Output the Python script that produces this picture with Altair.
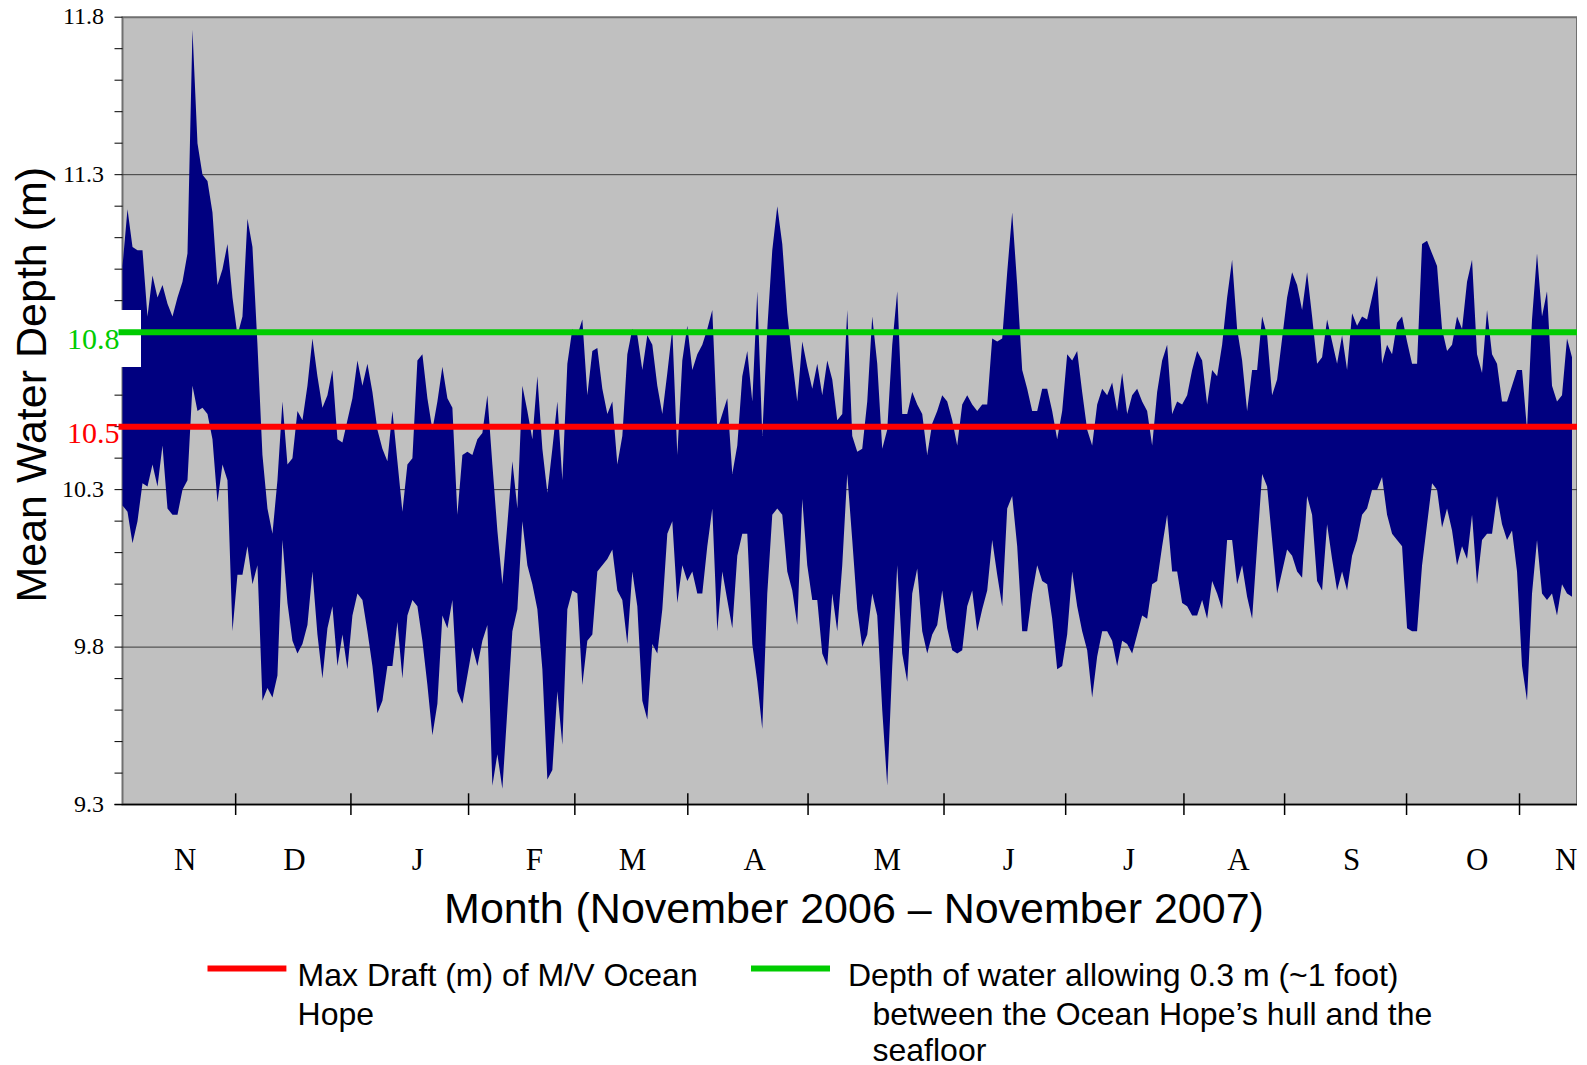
import altair as alt
import pandas as pd

# ---------------- data ----------------
# Envelope of the hourly water-depth trace (m): local high / low per ~1.3-day step
high_nov = [11.01, 11.19, 11.07, 11.06, 11.06, 10.85, 10.98, 10.91, 10.95, 10.89, 10.85, 10.91,
            10.96, 11.05, 11.76, 11.40, 11.30, 11.28, 11.18, 10.95, 11.00, 11.08, 10.91, 10.79,
            10.85, 11.16, 11.07, 10.76, 10.41, 10.24, 10.16, 10.33, 10.58, 10.38, 10.40, 10.55]
low_nov = [10.25, 10.23, 10.13, 10.20, 10.32, 10.31, 10.38, 10.31, 10.44, 10.24, 10.22, 10.22,
           10.30, 10.33, 10.63, 10.55, 10.56, 10.54, 10.46, 10.26, 10.38, 10.33, 9.85, 10.03,
           10.03, 10.12, 10.00, 10.06, 9.63, 9.67, 9.64, 9.71, 10.14, 9.94, 9.82, 9.78]

high_dec = [10.52, 10.63, 10.78, 10.66, 10.56, 10.60, 10.68, 10.46, 10.45, 10.52, 10.59, 10.71,
            10.63, 10.70, 10.61, 10.49, 10.43, 10.39, 10.55, 10.39, 10.23, 10.38, 10.40, 10.71,
            10.73, 10.59, 10.49, 10.58, 10.69, 10.59, 10.56, 10.22, 10.41, 10.42, 10.41, 10.46]
low_dec = [9.81, 9.87, 10.04, 9.84, 9.70, 9.86, 9.93, 9.74, 9.84, 9.73, 9.90, 9.97,
           9.95, 9.85, 9.74, 9.59, 9.63, 9.74, 9.74, 9.88, 9.70, 9.90, 9.95, 9.93,
           9.82, 9.68, 9.52, 9.62, 9.90, 9.86, 9.95, 9.66, 9.62, 9.71, 9.80, 9.74]

high_feb = [10.48, 10.60, 10.38, 10.17, 10.00, 10.19, 10.39, 10.24, 10.63, 10.55, 10.46, 10.66,
            10.43, 10.29, 10.43, 10.58, 10.33, 10.70, 10.81, 10.79, 10.84, 10.60, 10.74, 10.75,
            10.62, 10.54, 10.58, 10.38, 10.47, 10.73, 10.81, 10.79, 10.68, 10.79, 10.76, 10.63]
low_feb = [9.82, 9.87, 9.36, 9.46, 9.35, 9.60, 9.85, 9.92, 10.20, 10.06, 10.00, 9.92,
           9.73, 9.38, 9.41, 9.66, 9.49, 9.92, 9.98, 9.97, 9.68, 9.82, 9.84, 10.04,
           10.06, 10.08, 10.11, 9.98, 9.95, 9.81, 10.04, 9.93, 9.63, 9.57, 9.81, 9.78]

high_apr = [10.54, 10.67, 10.81, 10.41, 10.71, 10.82, 10.68, 10.73, 10.76, 10.81, 10.87, 10.49,
            10.54, 10.59, 10.35, 10.44, 10.66, 10.74, 10.58, 10.93, 10.47, 10.81, 11.06, 11.20,
            11.08, 10.86, 10.71, 10.58, 10.77, 10.69, 10.62, 10.70, 10.60, 10.71, 10.65, 10.52]
low_apr = [9.92, 10.16, 10.20, 9.94, 10.06, 10.01, 10.04, 9.97, 9.97, 10.12, 10.24, 9.85,
           10.04, 9.95, 9.86, 10.09, 10.16, 10.16, 9.81, 9.69, 9.54, 9.97, 10.22, 10.24,
           10.22, 10.04, 9.98, 9.87, 10.27, 10.06, 9.95, 9.95, 9.78, 9.74, 9.97, 9.85]

high_may = [10.54, 10.87, 10.47, 10.42, 10.43, 10.58, 10.85, 10.70, 10.43, 10.49, 10.76, 10.93,
            10.54, 10.54, 10.61, 10.57, 10.54, 10.41, 10.51, 10.55, 10.60, 10.58, 10.52, 10.44,
            10.57, 10.60, 10.57, 10.55, 10.57, 10.57, 10.78, 10.77, 10.78, 10.99, 11.18, 10.95]
low_may = [10.06, 10.35, 10.14, 9.92, 9.80, 9.84, 9.97, 9.90, 9.60, 9.36, 9.74, 10.06,
           9.78, 9.69, 9.97, 10.05, 9.85, 9.78, 9.84, 9.87, 9.98, 9.86, 9.79, 9.78,
           9.79, 9.93, 9.98, 9.85, 9.92, 9.98, 10.14, 10.03, 9.93, 10.24, 10.28, 10.12]

high_jul = [10.68, 10.62, 10.55, 10.55, 10.62, 10.62, 10.55, 10.46, 10.55, 10.73, 10.71, 10.74,
            10.61, 10.49, 10.44, 10.57, 10.62, 10.60, 10.64, 10.55, 10.67, 10.54, 10.60, 10.62,
            10.58, 10.55, 10.44, 10.61, 10.71, 10.76, 10.54, 10.58, 10.57, 10.60, 10.68, 10.74]
low_jul = [9.85, 9.85, 9.97, 10.06, 10.01, 10.00, 9.89, 9.73, 9.74, 9.84, 10.04, 9.93,
           9.85, 9.79, 9.64, 9.77, 9.85, 9.85, 9.82, 9.74, 9.82, 9.81, 9.78, 9.84,
           9.90, 9.89, 10.00, 10.01, 10.12, 10.22, 10.04, 10.04, 9.94, 9.93, 9.90, 9.90]

high_sep = [10.71, 10.57, 10.68, 10.66, 10.76, 10.91, 11.03, 10.81, 10.71, 10.55, 10.68, 10.68,
            10.85, 10.79, 10.60, 10.65, 10.78, 10.91, 10.99, 10.95, 10.87, 10.99, 10.85, 10.70,
            10.72, 10.84, 10.77, 10.70, 10.79, 10.68, 10.86, 10.82, 10.85, 10.84, 10.91, 10.98]
low_sep = [9.95, 9.89, 10.01, 9.97, 9.92, 10.14, 10.14, 10.00, 10.06, 9.96, 9.89, 10.12,
           10.35, 10.31, 10.14, 9.97, 10.04, 10.11, 10.09, 10.04, 10.02, 10.28, 10.22, 10.01,
           9.98, 10.19, 10.08, 9.98, 10.04, 9.98, 10.09, 10.14, 10.22, 10.24, 10.30, 10.30]

high_oct = [10.70, 10.76, 10.73, 10.83, 10.85, 10.77, 10.70, 10.70, 11.08, 11.09, 11.05, 11.01,
            10.81, 10.74, 10.76, 10.85, 10.81, 10.96, 11.03, 10.73, 10.67, 10.87, 10.73, 10.70,
            10.58, 10.58, 10.63, 10.68, 10.68, 10.49, 10.84, 11.05, 10.85, 10.93, 10.63, 10.58,
            10.60, 10.78, 10.72]
low_oct = [10.34, 10.22, 10.16, 10.14, 10.12, 9.86, 9.85, 9.85, 10.06, 10.19, 10.32, 10.30,
           10.18, 10.24, 10.17, 10.06, 10.12, 10.08, 10.22, 10.00, 10.14, 10.16, 10.16, 10.28,
           10.19, 10.14, 10.17, 10.04, 9.74, 9.63, 9.97, 10.14, 9.97, 9.95, 9.97, 9.90,
           10.00, 9.97, 9.96]

depth_high = high_nov + high_dec + high_feb + high_apr + high_may + high_jul + high_sep + high_oct
depth_low = low_nov + low_dec + low_feb + low_apr + low_may + low_jul + low_sep + low_oct

# month boundaries and month letters (in trace steps)
month_tick_steps = [22.64, 45.7, 69.24, 90.5, 113.1, 137.16, 164.36, 188.7, 212.36, 232.5, 256.9, 279.5]
month_letters = ["N", "D", "J", "F", "M", "A", "M", "J", "J", "A", "S", "O", "N"]
month_letter_steps = [12.54, 34.4, 59.1, 82.38, 102.02, 126.5, 153.02, 177.3, 201.4, 223.26, 245.9, 271.04, 288.84]

y_tick_values = [9.3, 9.4, 9.5, 9.6, 9.7, 9.8, 9.9, 10.0, 10.1, 10.2, 10.3, 10.4, 10.5,
                 10.6, 10.7, 10.8, 10.9, 11.0, 11.1, 11.2, 11.3, 11.4, 11.5, 11.6, 11.7, 11.8]
y_label_values = [9.3, 9.8, 10.3, 11.3, 11.8]
grid_levels = [9.8, 10.3, 10.8, 11.3]

max_draft = 10.5
clearance_depth = 10.8

y_title = "Mean Water Depth (m)"
x_title = "Month (November 2006 \u2013 November 2007)"
legend_red = ["Max Draft (m) of M/V Ocean", "Hope"]
legend_green = ["Depth of water allowing 0.3 m (~1 foot)",
                "between the Ocean Hope\u2019s hull and the", "seafloor"]

# ---------------- chart ----------------
W = 1454.5
H = 787.4
NAVY = "#000080"
RED = "#FF0000"
GREEN = "#00CC00"
SANS = "Liberation Sans"
SERIF = "Liberation Serif"

n = min(len(depth_high), len(depth_low))
series = pd.DataFrame({"step": list(range(n)), "high": depth_high[:n], "low": depth_low[:n]})

xs = alt.Scale(domain=[0, 291], nice=False, zero=False)
ys = alt.Scale(domain=[9.3, 11.8], nice=False, zero=False)

one = pd.DataFrame({"a": [0]})

grid = alt.Chart(pd.DataFrame({"g": grid_levels})).mark_rule(
    color="#3a3a3a", strokeWidth=1
).encode(
    y=alt.Y("g:Q", scale=ys, axis=None),
    x=alt.value(0), x2=alt.value(W),
)

band = alt.Chart(series).mark_area(color=NAVY, opacity=1, interpolate="linear").encode(
    x=alt.X("step:Q", scale=xs, axis=None),
    y=alt.Y("high:Q", scale=ys, axis=None),
    y2="low:Q",
)

# y axis: minor ticks every 0.1 m, labels at the major values
y_ticks = alt.Chart(pd.DataFrame({"v": y_tick_values})).mark_rule(
    color="black", strokeWidth=1
).encode(
    y=alt.Y("v:Q", scale=ys, axis=None),
    x=alt.value(-8), x2=alt.value(0),
)
y_labels = alt.Chart(pd.DataFrame({"v": y_label_values})).mark_text(
    align="right", baseline="middle", font=SERIF, fontSize=24, color="black"
).encode(
    y=alt.Y("v:Q", scale=ys, axis=None),
    x=alt.value(-18.5),
    text=alt.Text("v:Q", format=".1f"),
)

white_box = alt.Chart(one).mark_rect(color="white", opacity=1).encode(
    x=alt.value(-12), x2=alt.value(18.5), y=alt.value(292.8), y2=alt.value(349.8)
)

levels = pd.DataFrame({"level": [max_draft, clearance_depth], "col": [RED, GREEN]})
level_lines = alt.Chart(levels).mark_rule(strokeWidth=6).encode(
    y=alt.Y("level:Q", scale=ys, axis=None),
    x=alt.value(-4), x2=alt.value(W),
    color=alt.Color("col:N", scale=None),
)
level_text = alt.Chart(levels).mark_text(
    align="right", baseline="middle", font=SERIF, fontSize=30, dy=7.5
).encode(
    y=alt.Y("level:Q", scale=ys, axis=None),
    x=alt.value(-3),
    text=alt.Text("level:Q", format=".1f"),
    color=alt.Color("col:N", scale=None),
)

x_line = alt.Chart(one).mark_rule(color="black", strokeWidth=1.5).encode(
    x=alt.value(-8), x2=alt.value(W), y=alt.value(H)
)
month_ticks = alt.Chart(pd.DataFrame({"m": month_tick_steps})).mark_rule(
    color="black", strokeWidth=1.5
).encode(
    x=alt.X("m:Q", scale=xs, axis=None),
    y=alt.value(H - 11.3), y2=alt.value(H + 10.4),
)
month_text = alt.Chart(pd.DataFrame({"p": month_letter_steps, "t": month_letters})).mark_text(
    font=SERIF, fontSize=31, align="center", baseline="alphabetic", color="black"
).encode(
    x=alt.X("p:Q", scale=xs, axis=None),
    y=alt.value(852.8),
    text="t:N",
)

x_title_mark = alt.Chart(one).mark_text(
    text=x_title, font=SANS, fontSize=43, align="center", baseline="alphabetic", color="black"
).encode(x=alt.value(731.5), y=alt.value(905.8))

y_title_mark = alt.Chart(one).mark_text(
    text=y_title, font=SANS, fontSize=43, align="center", baseline="alphabetic",
    angle=270, color="black"
).encode(x=alt.value(-76.5), y=alt.value(367.5))

red_swatch = alt.Chart(one).mark_rule(color=RED, strokeWidth=6).encode(
    x=alt.value(85), x2=alt.value(163.9), y=alt.value(951.4)
)
green_swatch = alt.Chart(one).mark_rule(color=GREEN, strokeWidth=6).encode(
    x=alt.value(628.5), x2=alt.value(707.5), y=alt.value(951.4)
)


def legend_line(txt, x, y):
    return alt.Chart(one).mark_text(
        text=txt, font=SANS, fontSize=32, align="left", baseline="alphabetic", color="black"
    ).encode(x=alt.value(x), y=alt.value(y))


legend_texts = [
    legend_line(legend_red[0], 175.1, 968.6),
    legend_line(legend_red[1], 175.1, 1007.6),
    legend_line(legend_green[0], 725.5, 968.6),
    legend_line(legend_green[1], 750.0, 1007.6),
    legend_line(legend_green[2], 750.0, 1044.0),
]

chart = alt.layer(
    grid, band, y_ticks, y_labels, white_box, level_lines, level_text, x_line, month_ticks,
    month_text, x_title_mark, y_title_mark, red_swatch, green_swatch, *legend_texts
).properties(
    width=W, height=H,
    autosize=alt.AutoSizeParams(type="none"),
    padding={"left": 114.5, "top": 9.2, "right": 0, "bottom": 260.4},
).configure_view(
    fill="#C0C0C0", stroke="#707070", strokeWidth=2
)

chart.save("out.html", embed_options={"renderer": "svg", "actions": False})
